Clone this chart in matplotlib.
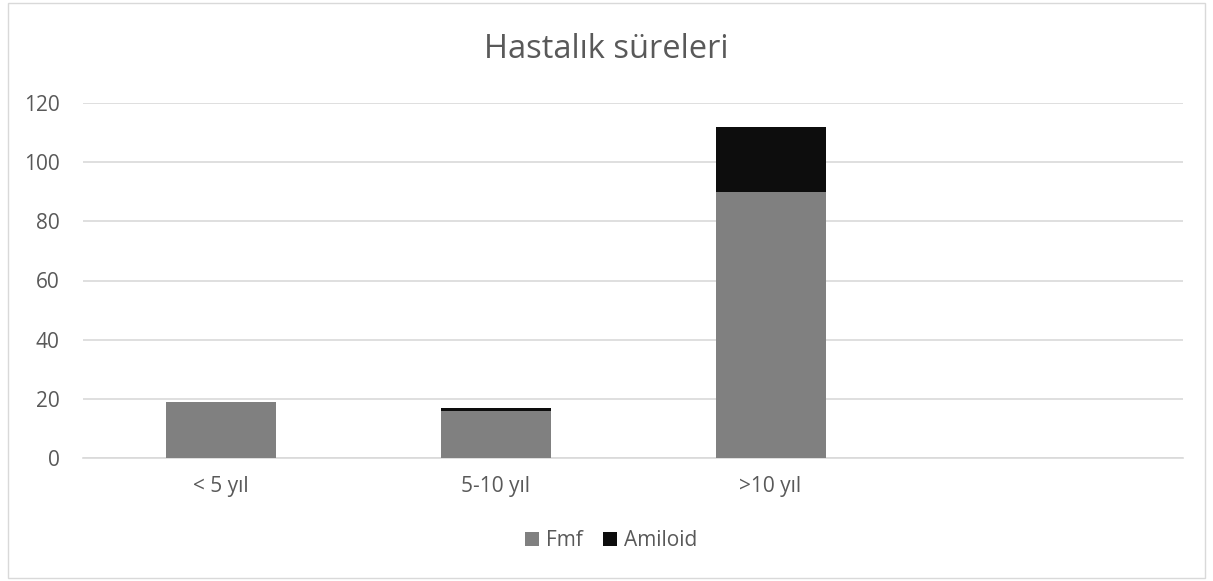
import matplotlib.pyplot as plt
import numpy as np
from matplotlib.patches import Rectangle

categories = ["< 5 yıl", "5-10 yıl", ">10 yıl", ""]
fmf = [19, 16, 90, 0]
amiloid = [0, 1, 22, 0]
y_ticks = [0, 20, 40, 60, 80, 100, 120]

plt.rcParams["font.family"] = ["Open Sans", "DejaVu Sans"]

fig = plt.figure(figsize=(12.13, 5.81), dpi=100)
ax = fig.add_axes([83 / 1213, 1 - 458 / 581, 1100 / 1213, 355 / 581])

x = np.arange(len(categories))
ax.bar(x, fmf, width=0.4, color="#808080", label="Fmf", zorder=3)
ax.bar(x, amiloid, width=0.4, bottom=fmf, color="#0D0D0D", label="Amiloid", zorder=3)

ax.set_xlim(-0.5, len(categories) - 0.5)
ax.set_ylim(0, 120)
ax.set_yticks(y_ticks)
ax.set_xticks(x[:3])
ax.set_xticklabels(categories[:3])
ax.tick_params(axis="both", length=0, labelsize=15, colors="#595959")
ax.tick_params(axis="y", pad=17)
ax.tick_params(axis="x", pad=13)
ax.grid(axis="y", color="#D9D9D9", linewidth=1.2, zorder=0)
for side in ["top", "right", "left"]:
    ax.spines[side].set_visible(False)
ax.spines["bottom"].set_color("#D9D9D9")
ax.spines["bottom"].set_linewidth(1.2)

fig.text(0.5, 1 - 49 / 581, "Hastalık süreleri", ha="center", va="center",
         fontsize=23.5, color="#595959")

fig.legend(loc="center", bbox_to_anchor=(611 / 1213, 1 - 541 / 581), ncol=2,
           frameon=False, fontsize=15, handlelength=0.67, handleheight=0.67,
           columnspacing=1.0, handletextpad=0.33, labelcolor="#595959",
           borderpad=0)

fig.patches.append(Rectangle((8 / 1213, 3 / 581), 1197 / 1213, 575 / 581,
                             transform=fig.transFigure, fill=False,
                             edgecolor="#D9D9D9", linewidth=1))

fig.savefig("out.png", dpi=100)
